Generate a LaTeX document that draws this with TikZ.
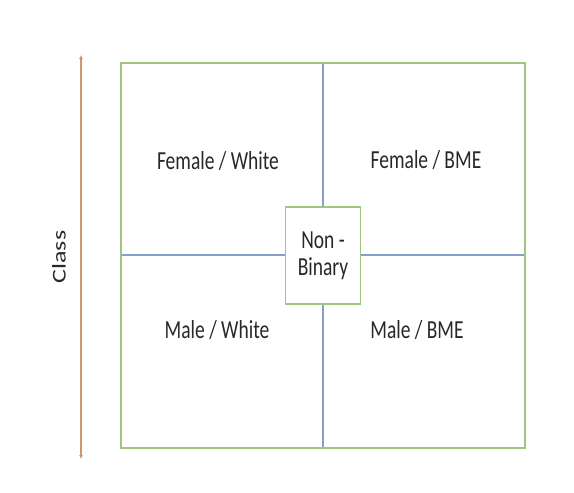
\documentclass[tikz,border=0pt]{standalone}
\usepackage{fontspec}
\setmainfont{Carlito}
\usetikzlibrary{arrows.meta}
\definecolor{boxgreen}{RGB}{160,196,130}
\definecolor{lineblue}{RGB}{130,160,200}
\definecolor{arroworange}{RGB}{205,150,110}
\definecolor{txt}{RGB}{40,40,40}
\tikzset{
  lbl/.style={text=txt, font=\fontsize{26}{28}\selectfont, inner sep=0pt, align=center},
  frame/.style={draw=boxgreen, line width=1.5pt},
  divider/.style={draw=lineblue, line width=1.5pt},
  axis/.style={draw=arroworange, line width=1.2pt, {Latex[length=4pt,width=4pt]}-{Latex[length=4pt,width=4pt]}}
}
\begin{document}
\begin{tikzpicture}[x=1pt,y=-1pt]
\useasboundingbox (0,0) rectangle (574,493);
\fill[white] (0,0) rectangle (574,493);
\coordinate (tl) at (121,63);
\coordinate (br) at (525,448);
\coordinate (vt) at (323,63);
\coordinate (vb) at (323,448);
\coordinate (hl) at (121,255);
\coordinate (hr) at (525,255);
\coordinate (at) at (81,55);
\coordinate (ab) at (81,459);
\draw[divider] (vt) -- (vb);
\draw[divider] (hl) -- (hr);
\draw[frame] (tl) rectangle (br);
\node[draw=boxgreen, line width=1.5pt, fill=white, minimum width=75pt, minimum height=97pt, inner sep=0pt] (nb) at (323,255.5) {};
\node[lbl] (nbt) at (323,256) {\scalebox{0.75}[1]{Non -}\\[-1pt]\scalebox{0.75}[1]{Binary}};
\node[lbl] (fw) at (218,161) {\scalebox{0.75}[1]{Female / White}};
\node[lbl] (fb) at (426,160) {\scalebox{0.75}[1]{Female / BME}};
\node[lbl] (mw) at (217,330) {\scalebox{0.75}[1]{Male / White}};
\node[lbl] (mb) at (417,330) {\scalebox{0.75}[1]{Male / BME}};
\draw[axis] (at) -- (ab);
\node[lbl, rotate=90] (cl) at (59,257) {\scalebox{1}[0.75]{Class}};
\end{tikzpicture}
\end{document}
